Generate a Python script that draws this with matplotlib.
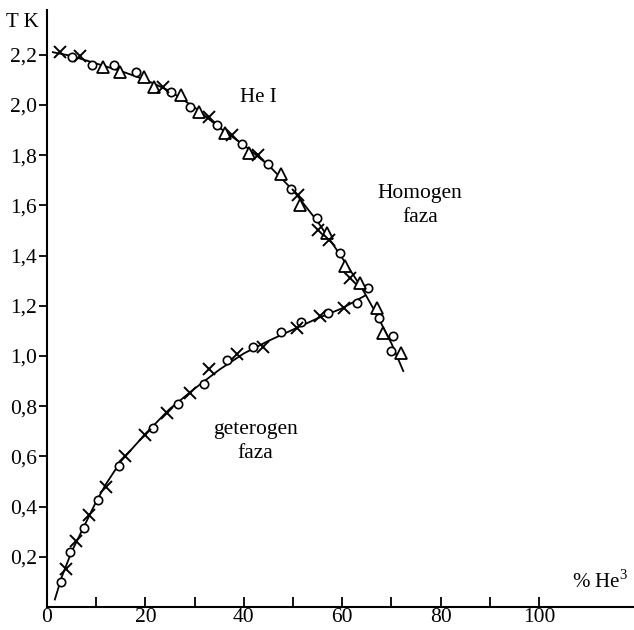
import numpy as np
import matplotlib.pyplot as plt

plt.rcParams['font.family'] = ['Liberation Serif', 'DejaVu Serif']
plt.rcParams['mathtext.fontset'] = 'custom'
plt.rcParams['mathtext.rm'] = 'Liberation Serif'

# upper curve (lambda line)
up_line_x = [1.2, 5, 10, 15, 20, 25, 30, 35, 40, 45, 50, 55, 60, 64, 67, 70, 72.4]
up_line_y = [2.21, 2.195, 2.165, 2.135, 2.10, 2.055, 1.99, 1.91, 1.84, 1.76, 1.66, 1.535, 1.39, 1.27, 1.165, 1.05, 0.94]

up_x_x = [2.6, 6.7, 23.6, 32.9, 37.6, 42.9, 51.0, 55.1, 57.3, 61.6]
up_x_y = [2.21, 2.195, 2.07, 1.95, 1.88, 1.80, 1.64, 1.50, 1.46, 1.31]
up_o_x = [5.1, 9.1, 13.6, 18.1, 25.2, 29.1, 34.6, 39.6, 44.9, 49.6, 54.9, 59.6, 65.2, 67.5, 70.3, 69.9]
up_o_y = [2.19, 2.16, 2.16, 2.13, 2.05, 1.99, 1.92, 1.845, 1.765, 1.665, 1.55, 1.41, 1.27, 1.15, 1.08, 1.02]
up_t_x = [11.4, 14.8, 19.7, 21.7, 27.2, 30.9, 36.2, 41.1, 47.6, 51.4, 56.9, 60.6, 63.6, 67.1, 68.3, 71.9]
up_t_y = [2.15, 2.13, 2.11, 2.07, 2.04, 1.97, 1.89, 1.81, 1.725, 1.60, 1.49, 1.36, 1.29, 1.19, 1.09, 1.01]

# lower curve (phase separation)
lo_line_x = [1.6, 3, 5, 8, 10, 12, 15, 20, 25, 30, 35, 40, 45, 50, 55, 60, 64.6]
lo_line_y = [0.03, 0.12, 0.22, 0.34, 0.42, 0.49, 0.58, 0.69, 0.79, 0.87, 0.945, 1.01, 1.06, 1.105, 1.15, 1.19, 1.24]

lo_x_x = [3.8, 5.9, 8.6, 12.0, 15.9, 19.9, 24.4, 29.1, 32.9, 38.6, 43.9, 50.8, 55.5, 60.4]
lo_x_y = [0.152, 0.263, 0.367, 0.478, 0.60, 0.685, 0.773, 0.853, 0.948, 1.008, 1.036, 1.11, 1.16, 1.19]
lo_o_x = [2.8, 4.7, 7.6, 10.4, 14.6, 21.5, 26.6, 31.9, 36.6, 41.9, 47.6, 51.6, 57.1, 63.0]
lo_o_y = [0.10, 0.22, 0.315, 0.426, 0.562, 0.713, 0.81, 0.888, 0.984, 1.036, 1.096, 1.135, 1.17, 1.21]

xticks = [0, 10, 20, 30, 40, 50, 60, 70, 80, 90, 100]
xlabels = ['0', '', '20', '', '40', '', '60', '', '80', '', '100']
yticks = [0.2, 0.4, 0.6, 0.8, 1.0, 1.2, 1.4, 1.6, 1.8, 2.0, 2.2]

fig = plt.figure(figsize=(6.34, 6.30), dpi=100)
ax = fig.add_axes([0.0741, 0.0365, 0.926, 0.9476])

ax.plot(up_line_x, up_line_y, color='black', lw=1.3)
ax.plot(lo_line_x, lo_line_y, color='black', lw=1.3)

mk = dict(linestyle='none', color='black', mfc='white', mec='black')
ax.plot(up_o_x, up_o_y, marker='o', ms=6, mew=1.2, **mk)
ax.plot(lo_o_x, lo_o_y, marker='o', ms=6, mew=1.2, **mk)
ax.plot(up_t_x, up_t_y, marker='^', ms=9, mew=1.3, **mk)
ax.plot(up_x_x, up_x_y, marker='x', ms=8, mew=1.4, **mk)
ax.plot(lo_x_x, lo_x_y, marker='x', ms=8, mew=1.4, **mk)

ax.set_xlim(0, 119.3)
ax.set_ylim(0, 2.378)
ax.spines['top'].set_visible(False)
ax.spines['right'].set_visible(False)
ax.spines['left'].set_linewidth(1.5)
ax.spines['bottom'].set_linewidth(1.5)

ax.set_xticks(xticks)
ax.set_xticklabels(xlabels)
ax.set_yticks(yticks)
ax.set_yticklabels([f'{v:.1f}'.replace('.', ',') for v in yticks])
ax.tick_params(axis='x', direction='in', length=7, width=1.3, pad=1, labelsize=15.5)
ax.tick_params(axis='y', direction='out', length=6, width=1.3, pad=1, labelsize=15.5)

ax.text(-5.1, 2.33, 'T K', ha='center', va='center', fontsize=15, clip_on=False)
ax.text(42.9, 2.03, 'He I', ha='center', va='center', fontsize=15)
ax.text(75.8, 1.60, 'Homogen\nfaza', ha='center', va='center', fontsize=15.5, linespacing=1.35)
ax.text(42.3, 0.66, 'geterogen\nfaza', ha='center', va='center', fontsize=15.5, linespacing=1.35)
ax.text(118, 0.10, '% He$^\\mathrm{3}$', ha='right', va='center', fontsize=15)

fig.savefig('out.png', dpi=100)
